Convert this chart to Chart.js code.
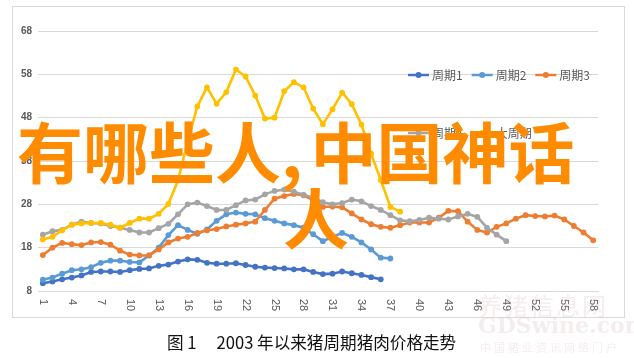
<!DOCTYPE html>
<html><head><meta charset="utf-8">
<script src="https://cdn.jsdelivr.net/npm/chart.js@4/dist/chart.umd.min.js"></script>
<style>
html,body{margin:0;padding:0;background:#fff;width:634px;height:358px;overflow:hidden}
#frame{position:absolute;left:12px;top:6px;width:611px;height:310px;border:1px solid #d9d9d9}
#c{position:absolute;left:0;top:0}
#overlay{position:absolute;left:17px;top:116px;font-family:"Noto Sans CJK SC";font-weight:700;font-size:66px;line-height:66px;color:#ff8c00;white-space:nowrap}
#caption{position:absolute;left:167px;top:330px;font-family:"Noto Sans CJK SC";font-size:16.6px;line-height:24px;color:#111;white-space:nowrap}
.wm{position:absolute;white-space:nowrap;color:rgba(215,185,185,0.25)}
</style></head><body>
<div id="frame"></div>
<canvas id="c" width="634" height="358"></canvas>
<div class="wm" style="left:478px;top:287px;font-family:'Noto Sans CJK SC';font-size:24px;letter-spacing:2px">养猪信息网</div>
<div class="wm" style="left:478px;top:312px;font-family:'DejaVu Serif';font-size:22px;font-weight:700">GDSwine.com</div>
<div class="wm" style="left:480px;top:339px;font-family:'Noto Sans CJK SC';font-size:11px;letter-spacing:3px">中国猪业资讯网络门户</div>
<div id="overlay">有哪些人<span style="margin-right:8px">,</span>中国神话<br><span style="padding-left:266px">人</span></div>
<div id="caption">图 1<span style="margin-left:20px">2003 年以来猪周期猪肉价格走势</span></div>
<script>
const categories = ['1','2','3','4','5','6','7','8','9','10','11','12','13','14','15','16','17','18','19','20',
'21','22','23','24','25','26','27','28','29','30','31','32','33','34','35','36','37','38','39','40',
'41','42','43','44','45','46','47','48','49','50','51','52','53','54','55','56','57','58'];
const xTickLabels = ['1','4','7','10','13','16','19','22','25','28','31','34','37','40','43','46','49','52','55','58'];
const yTicks = [8,18,28,38,48,58,68];

const seriesNames = ['周期1','周期2','周期3','周期4','大周期'];
const cycle1 = [9.8,10.2,10.7,11.1,11.6,12.4,12.5,12.5,12.4,12.8,13.1,13.2,13.8,14.1,14.8,15.3,15.2,14.5,14.3,14.3,14.4,14.0,13.6,13.4,13.3,13.2,13.0,13.0,12.4,11.9,12.0,12.5,12.1,11.7,11.2,10.7];
const cycle2 = [10.6,11.1,12.0,12.8,13.0,13.5,14.5,15.0,15.0,14.7,14.6,16.2,18.0,20.9,23.2,22.1,21.2,22.2,24.2,25.7,26.1,25.8,25.7,24.8,24.2,23.6,23.2,22.6,21.1,19.5,20.5,21.4,20.5,19.2,17.6,15.7,15.5];
const cycle3 = [16.3,18.0,19.1,18.8,18.6,19.2,19.3,18.7,17.3,16.4,16.2,16.2,17.6,19.2,20.1,20.5,21.4,22.0,22.3,22.9,23.3,23.6,24.0,26.7,29.3,29.9,30.4,30.1,29.0,27.4,27.5,27.3,25.9,24.5,23.4,22.8,22.6,23.2,23.8,23.8,23.8,24.9,26.5,26.4,24.0,22.1,21.5,22.8,23.6,24.7,25.5,25.3,25.2,25.4,24.5,23.0,21.5,19.7];
const cycle4 = [21.0,21.8,22.1,23.3,24.0,23.7,23.6,23.0,22.6,22.1,21.5,21.5,22.5,23.5,25.7,28.0,28.4,27.6,26.7,26.7,27.8,28.9,29.1,30.3,31.1,31.4,30.9,30.2,29.5,28.5,28.0,28.3,29.1,28.7,27.6,26.7,25.5,24.3,24.1,24.4,24.9,24.7,24.5,25.2,25.8,25.1,22.6,21.0,19.5];
const bigCycle = [19.9,20.5,22.0,23.3,23.6,23.7,23.7,23.3,22.6,23.7,24.7,24.7,25.8,28.1,33.5,42.5,50.6,55.0,51.2,53.9,59.1,57.5,53.1,47.8,48.0,54.1,56.2,55.0,50.1,46.5,49.9,53.8,51.1,46.4,39.7,33.6,27.4,26.3];

const colors = ['#4472C4','#5B9BD5','#ED7D31','#A5A5A5','#FFC000'];
const seriesData = [cycle1, cycle2, cycle3, cycle4, bigCycle];
const legendRows = [[0,1,2],[3,4]];
const legendRowY = [75,133];

const datasets = seriesData.map((d,i)=>({
  label: seriesNames[i], data: d,
  borderColor: colors[i], backgroundColor: colors[i],
  pointBackgroundColor: colors[i], pointBorderColor: colors[i],
  borderWidth: 2.6, pointRadius: 2.9, pointBorderWidth: 0,
  tension: 0, fill: false, order: 4 - i
}));

const xLabelPlugin = {
  id: 'xLabels',
  afterDraw(chart){
    const s = chart.scales.x, ctx = chart.ctx;
    ctx.save();
    ctx.font = '11px "Liberation Sans"';
    ctx.fillStyle = '#595959';
    ctx.textAlign = 'left';
    ctx.textBaseline = 'middle';
    categories.forEach((c,i)=>{
      if (!xTickLabels.includes(c)) return;
      const x = s.getPixelForValue(i);
      ctx.save();
      ctx.translate(x, s.top + 8);
      ctx.rotate(Math.PI/2);
      ctx.fillText(c, 0, 0);
      ctx.restore();
    });
    ctx.restore();
  }
};

const legendPlugin = {
  id: 'customLegend',
  afterDraw(chart){
    const ctx = chart.ctx;
    ctx.save();
    ctx.font = '12px "Noto Sans CJK SC"';
    ctx.textBaseline = 'middle';
    ctx.textAlign = 'left';
    legendRows.forEach((row,ri)=>{
      let x = 408;
      const y = legendRowY[ri];
      row.forEach(idx=>{
        const ds = chart.data.datasets[idx];
        ctx.strokeStyle = ds.borderColor;
        ctx.lineWidth = 2.5;
        ctx.beginPath(); ctx.moveTo(x, y); ctx.lineTo(x+21, y); ctx.stroke();
        ctx.fillStyle = ds.borderColor;
        ctx.beginPath(); ctx.arc(x+10.5, y, 3, 0, Math.PI*2); ctx.fill();
        ctx.fillStyle = '#595959';
        ctx.fillText(ds.label, x+24, y+0.5);
        x += 24 + ctx.measureText(ds.label).width + 9;
      });
    });
    ctx.restore();
  }
};

new Chart(document.getElementById('c'), {
  type: 'line',
  data: { labels: categories, datasets },
  options: {
    responsive: false, animation: false, devicePixelRatio: 1,
    layout: { padding: { left: 0, right: 36, top: 31, bottom: 0 } },
    plugins: { legend: { display: false }, tooltip: { enabled: false } },
    scales: {
      x: {
        offset: true,
        grid: { display: false, drawTicks: false },
        border: { display: true, color: '#d9d9d9' },
        ticks: { display: false },
        afterFit(s){ s.height = 67; }
      },
      y: {
        min: 8, max: 68,
        afterBuildTicks(s){ s.ticks = yTicks.map(v=>({value:v})); },
        ticks: { padding: 6, color: '#595959', font: { size: 10, family: 'Liberation Sans', weight: 'bold' } },
        grid: { color: '#d9d9d9', drawTicks: false },
        border: { display: false },
        afterFit(s){ s.width = 38; }
      }
    }
  },
  plugins: [xLabelPlugin, legendPlugin]
});
</script>
</body></html>
